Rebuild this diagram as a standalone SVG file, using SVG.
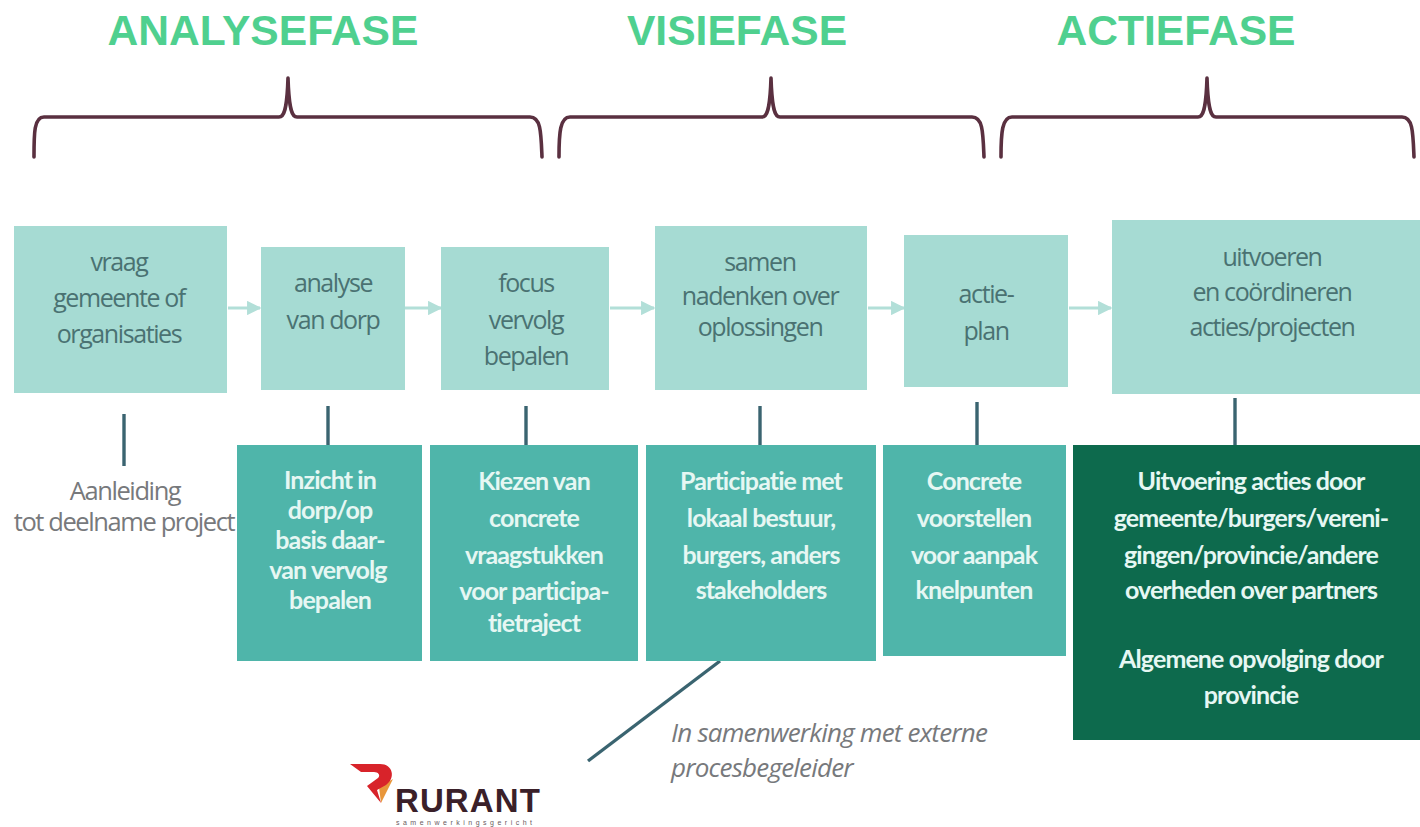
<svg xmlns="http://www.w3.org/2000/svg" width="1420" height="827" viewBox="0 0 1420 827">
<defs>
<marker id="arr" viewBox="0 0 10 10" refX="9" refY="5" markerWidth="4.8" markerHeight="4.8" orient="auto"><path d="M0 0L10 5L0 10Z" fill="#b2dfd8"/></marker>
</defs>
<style>
.ph{font:700 42.6px "Liberation Sans",Arial,sans-serif;fill:#4fd08f;text-anchor:middle}
.br{fill:none;stroke:#5a3040;stroke-width:3.6;stroke-linecap:round;stroke-linejoin:round}
.lt{fill:#a6dbd3}.md{fill:#4fb5aa}.dk{fill:#0d6a4d}
.t{font:25px "Open Sans","Noto Sans",sans-serif;fill:#4a7272;text-anchor:middle;letter-spacing:-1.4px}
.w{font:700 25px Lato,"Open Sans",sans-serif;fill:#e6f7f3;text-anchor:middle;letter-spacing:-.9px}
.g{font:25.5px "Open Sans","Noto Sans",sans-serif;fill:#77797c;text-anchor:middle;letter-spacing:-1.4px}
.i{font:italic 26px "Open Sans","Noto Sans",sans-serif;fill:#77797c;letter-spacing:-.8px}
.a{fill:none;stroke:#b2dfd8;stroke-width:3;marker-end:url(#arr)}
.c{fill:none;stroke:#3a6470;stroke-width:3.4}
</style>
<text class="ph" x="263" y="45">ANALYSEFASE</text>
<text class="ph" x="737" y="45">VISIEFASE</text>
<text class="ph" x="1176" y="45">ACTIEFASE</text>
<g id="braces">
<path class="br" d="M34 157C34 133 34 117 44 117H279C284 117 287 110 288 78C289 110 292 117 297 117H530C541 117 541 133 542 157"/>
<path class="br" d="M559 157C559 133 560 117 570 117H762C767 117 770 110 771 78C772 110 775 117 780 117H972C983 117 983 133 984 157"/>
<path class="br" d="M1001 157C1001 133 1002 117 1012 117H1198C1203 117 1206 110 1207 78C1208 110 1211 117 1216 117H1402C1413 117 1413 133 1414 157"/>
</g>
<g id="connectors">
<path class="a" d="M228 308H260"/><path class="a" d="M405 308H441"/><path class="a" d="M610 308H654"/><path class="a" d="M868 308H904"/><path class="a" d="M1069 308H1111"/>
<path class="c" d="M124 414V466"/><path class="c" d="M328 406V445"/><path class="c" d="M526 406V445"/><path class="c" d="M760 406V445"/><path class="c" d="M977 402V445"/><path class="c" d="M1235 398V445"/>
<path class="c" d="M720 661L588 761"/>
</g>
<g id="n1"><rect class="lt" x="14" y="226" width="213" height="167"/><text class="t"><tspan x="119" y="271">vraag</tspan><tspan x="119" y="307">gemeente of</tspan><tspan x="119" y="343">organisaties</tspan></text></g>
<g id="n2"><rect class="lt" x="261" y="247" width="144" height="143"/><text class="t"><tspan x="333" y="292">analyse</tspan><tspan x="333" y="329">van dorp</tspan></text></g>
<g id="n3"><rect class="lt" x="441" y="247" width="168" height="143"/><text class="t"><tspan x="526" y="292">focus</tspan><tspan x="526" y="329">vervolg</tspan><tspan x="526" y="365">bepalen</tspan></text></g>
<g id="n4"><rect class="lt" x="655" y="226" width="212" height="164"/><text class="t"><tspan x="760" y="271">samen</tspan><tspan x="760" y="305">nadenken over</tspan><tspan x="760" y="336">oplossingen</tspan></text></g>
<g id="n5"><rect class="lt" x="904" y="235" width="164" height="152"/><text class="t"><tspan x="986" y="303">actie-</tspan><tspan x="986" y="340">plan</tspan></text></g>
<g id="n6"><rect class="lt" x="1112" y="220" width="308" height="174"/><text class="t"><tspan x="1272" y="266">uitvoeren</tspan><tspan x="1272" y="301">en coördineren</tspan><tspan x="1272" y="336">acties/projecten</tspan></text></g>
<g id="n7"><text class="g"><tspan x="125" y="500">Aanleiding</tspan><tspan x="124" y="531">tot deelname project</tspan></text></g>
<g id="n8"><rect class="md" x="237" y="445" width="185" height="216"/><text class="w"><tspan x="330" y="489">Inzicht in</tspan><tspan x="330" y="519">dorp/op</tspan><tspan x="330" y="549">basis daar-</tspan><tspan x="328" y="579">van vervolg</tspan><tspan x="330" y="609">bepalen</tspan></text></g>
<g id="n9"><rect class="md" x="430" y="445" width="208" height="216"/><text class="w"><tspan x="534" y="490">Kiezen van</tspan><tspan x="534" y="527">concrete</tspan><tspan x="534" y="564">vraagstukken</tspan><tspan x="534" y="600">voor participa-</tspan><tspan x="534" y="632">tietraject</tspan></text></g>
<g id="n10"><rect class="md" x="646" y="445" width="230" height="216"/><text class="w"><tspan x="761" y="490">Participatie met</tspan><tspan x="761" y="527">lokaal bestuur,</tspan><tspan x="761" y="564">burgers, anders</tspan><tspan x="761" y="599">stakeholders</tspan></text></g>
<g id="n11"><rect class="md" x="883" y="445" width="183" height="211"/><text class="w"><tspan x="974" y="490">Concrete</tspan><tspan x="974" y="527">voorstellen</tspan><tspan x="974" y="564">voor aanpak</tspan><tspan x="974" y="599">knelpunten</tspan></text></g>
<g id="n12"><rect class="dk" x="1073" y="445" width="347" height="295"/><text class="w"><tspan x="1251" y="490">Uitvoering acties door</tspan><tspan x="1251" y="527">gemeente/burgers/vereni-</tspan><tspan x="1251" y="564">gingen/provincie/andere</tspan><tspan x="1251" y="599">overheden over partners</tspan><tspan x="1251" y="668">Algemene opvolging door</tspan><tspan x="1251" y="704">provincie</tspan></text></g>
<g id="note"><text class="i"><tspan x="671" y="742">In samenwerking met externe</tspan><tspan x="671" y="777">procesbegeleider</tspan></text></g>
<g id="logo">
<path d="M379 787L393 779L381 803Z" fill="#e8963a"/>
<path d="M350 764H380C393 764 396 778 386 785L377 790L381 803L367 786L378 778C381 775 378 772 374 772H361Z" fill="#d8232a"/>
<text x="395" y="812" style="font:700 33px 'Liberation Sans',Arial,sans-serif;fill:#3a2029;letter-spacing:1.1px">RURANT</text>
<text x="396" y="825" textLength="136" style="font:7px 'Liberation Sans',Arial,sans-serif;fill:#6a5a60">samenwerkingsgericht</text>
</g>
</svg>
